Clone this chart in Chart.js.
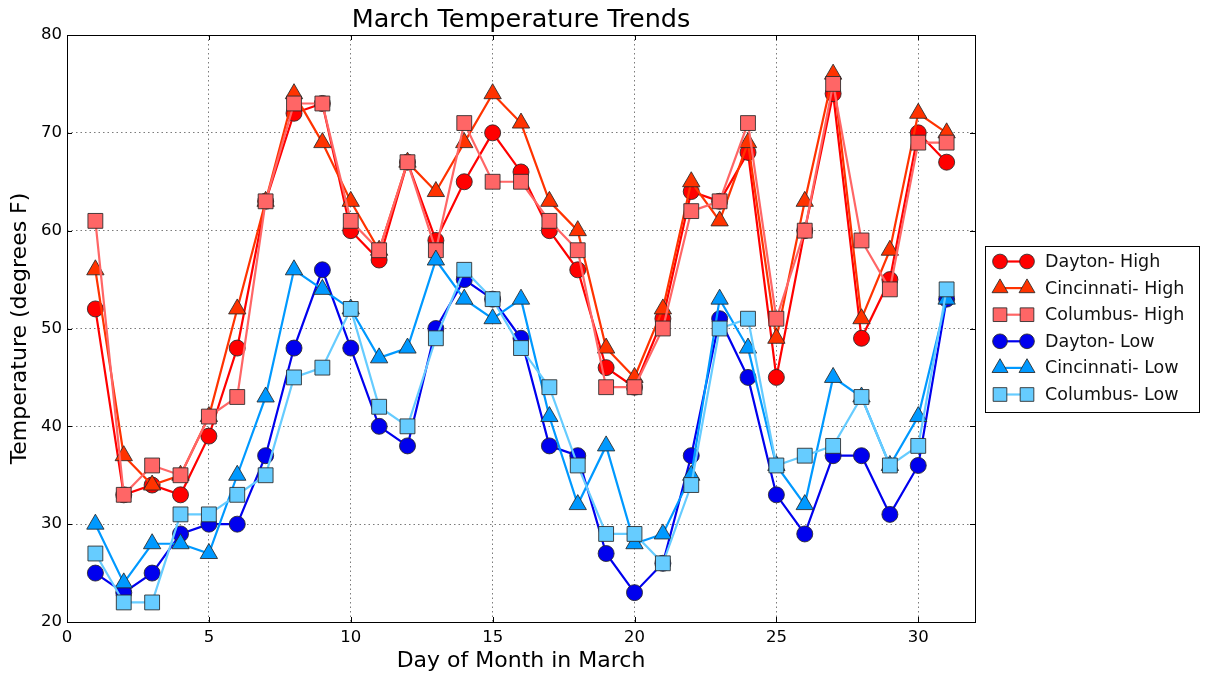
<!DOCTYPE html>
<html>
<head>
<meta charset="utf-8">
<title>March Temperature Trends</title>
<script src="https://cdn.jsdelivr.net/npm/chart.js@4/dist/chart.umd.min.js"></script>
<style>
  html, body { margin: 0; padding: 0; background: #fff; }
  #wrap { width: 1207px; height: 677px; }
</style>
</head>
<body>
<div id="wrap"><canvas id="chart" width="1207" height="677"></canvas></div>
<script>
// Days of the month
const days = [1, 2, 3, 4, 5, 6, 7, 8, 9, 10, 11, 12, 13, 14, 15, 16, 17, 18, 19, 20, 21, 22, 23, 24, 25, 26, 27, 28, 29, 30, 31]

// Temperatures
const daytonHigh     = [52, 33, 34, 33, 39, 48, 63, 72, 73, 60, 57, 67, 59, 65, 70, 66, 60, 56, 46, 44, 51, 64, 63, 68, 45, 60, 74, 49, 55, 70, 67]
const cincinnatiHigh = [56, 37, 34, 35, 41, 52, 63, 74, 69, 63, 58, 67, 64, 69, 74, 71, 63, 60, 48, 45, 52, 65, 61, 69, 49, 63, 76, 51, 58, 72, 70]
const columbusHigh   = [61, 33, 36, 35, 41, 43, 63, 73, 73, 61, 58, 67, 58, 71, 65, 65, 61, 58, 44, 44, 50, 62, 63, 71, 51, 60, 75, 59, 54, 69, 69]
const daytonLow      = [25, 23, 25, 29, 30, 30, 37, 48, 56, 48, 40, 38, 50, 55, 53, 49, 38, 37, 27, 23, 26, 37, 51, 45, 33, 29, 37, 37, 31, 36, 53]
const cincinnatiLow  = [30, 24, 28, 28, 27, 35, 43, 56, 54, 52, 47, 48, 57, 53, 51, 53, 41, 32, 38, 28, 29, 35, 53, 48, 36, 32, 45, 43, 36, 41, 53]
const columbusLow    = [27, 22, 22, 31, 31, 33, 35, 45, 46, 52, 42, 40, 49, 56, 53, 48, 44, 36, 29, 29, 26, 34, 50, 51, 36, 37, 38, 43, 36, 38, 54]

const seriesNames = ["Dayton- High", "Cincinnati- High", "Columbus- High", "Dayton- Low", "Cincinnati- Low", "Columbus- Low"]
const seriesValues = [daytonHigh, cincinnatiHigh, columbusHigh, daytonLow, cincinnatiLow, columbusLow]
const seriesColors = ["#ff0000", "#ff3300", "#ff6666", "#0000ee", "#0099ff", "#66ccff"]
const seriesMarkers = ["circle", "triangle", "rect", "circle", "triangle", "rect"]
const markerRadius = { circle: 8, triangle: 10, rect: 10.5 }

const xTicks = [0, 5, 10, 15, 20, 25, 30]
const yTicks = [20, 30, 40, 50, 60, 70, 80]

const FONT = "'DejaVu Sans', 'Liberation Sans', sans-serif"
const EDGE = "rgba(40,40,40,0.85)"

// Build the datasets; later series sit on top, as in the original
const datasets = seriesNames.map((name, i) => ({
    label: name,
    data: days.map((d, j) => ({ x: d, y: seriesValues[i][j] })),
    borderColor: seriesColors[i],
    backgroundColor: seriesColors[i],
    borderWidth: 2.2,
    pointStyle: seriesMarkers[i],
    pointRadius: markerRadius[seriesMarkers[i]],
    pointHoverRadius: markerRadius[seriesMarkers[i]],
    pointBorderColor: EDGE,
    pointBorderWidth: 1,
    pointBackgroundColor: seriesColors[i],
    tension: 0,
    order: seriesNames.length - i
}))

// Frame, inner tick marks, title and legend
const decorations = {
    id: "decorations",
    afterDatasetsDraw(chart) {
        const { ctx, chartArea: a, scales } = chart
        ctx.save()
        ctx.strokeStyle = "#000"
        ctx.lineWidth = 1
        ctx.strokeRect(a.left + 0.5, a.top + 0.5, a.right - a.left, a.bottom - a.top)
        ctx.beginPath()
        for (const t of xTicks) {
            const x = Math.round(scales.x.getPixelForValue(t)) + 0.5
            ctx.moveTo(x, a.bottom); ctx.lineTo(x, a.bottom - 5)
            ctx.moveTo(x, a.top); ctx.lineTo(x, a.top + 5)
        }
        for (const t of yTicks) {
            const y = Math.round(scales.y.getPixelForValue(t)) + 0.5
            ctx.moveTo(a.left, y); ctx.lineTo(a.left + 5, y)
            ctx.moveTo(a.right, y); ctx.lineTo(a.right - 5, y)
        }
        ctx.stroke()

        // Title
        ctx.fillStyle = "#000"
        ctx.font = "25.5px " + FONT
        ctx.textAlign = "center"
        ctx.textBaseline = "middle"
        ctx.fillText("March Temperature Trends", (a.left + a.right) / 2, 20)

        // Legend
        const box = { x: 985.5, y: 246.5, w: 214, h: 166 }
        ctx.strokeStyle = "#000"
        ctx.strokeRect(box.x, box.y, box.w, box.h)
        ctx.font = "17.5px " + FONT
        ctx.textAlign = "left"
        seriesNames.forEach((name, i) => {
            const y = 261.5 + i * 26.6
            ctx.strokeStyle = seriesColors[i]
            ctx.lineWidth = 2.2
            ctx.beginPath()
            ctx.moveTo(1000, y); ctx.lineTo(1027, y)
            ctx.stroke()
            const opts = {
                pointStyle: seriesMarkers[i],
                radius: markerRadius[seriesMarkers[i]] * 0.92,
                borderWidth: 1
            }
            ctx.fillStyle = seriesColors[i]
            ctx.strokeStyle = EDGE
            ctx.lineWidth = 1
            Chart.helpers.drawPoint(ctx, opts, 1000, y)
            Chart.helpers.drawPoint(ctx, opts, 1027, y)
            ctx.fillStyle = "#111"
            ctx.fillText(name, 1045, y + 1)
        })
        ctx.restore()
    }
}

new Chart(document.getElementById("chart"), {
    type: "line",
    data: { datasets },
    options: {
        responsive: false,
        animation: false,
        layout: { padding: { top: 35, right: 232, left: 0, bottom: 0 } },
        plugins: {
            legend: { display: false },
            title: { display: false },
            tooltip: { enabled: false }
        },
        scales: {
            x: {
                type: "linear",
                min: 0,
                max: 32,
                afterBuildTicks: scale => { scale.ticks = xTicks.map(v => ({ value: v })) },
                afterFit: scale => { scale.height = 55 },
                grid: { color: "rgba(0,0,0,0.65)", lineWidth: 0.8, drawTicks: false },
                border: { display: false, dash: [1.5, 3] },
                ticks: { color: "#000", padding: 6, font: { family: FONT, size: 16.5 }, maxRotation: 0 },
                title: {
                    display: true,
                    text: "Day of Month in March",
                    color: "#000",
                    font: { family: FONT, size: 22 },
                    padding: { top: 0, bottom: 3 }
                }
            },
            y: {
                type: "linear",
                min: 20,
                max: 80,
                afterBuildTicks: scale => { scale.ticks = yTicks.map(v => ({ value: v })) },
                afterFit: scale => { scale.width = 67 },
                grid: { color: "rgba(0,0,0,0.65)", lineWidth: 0.8, drawTicks: false },
                border: { display: false, dash: [1.5, 3] },
                ticks: { color: "#000", padding: 5, font: { family: FONT, size: 16.5 } },
                title: {
                    display: true,
                    text: "Temperature (degrees F)",
                    color: "#000",
                    font: { family: FONT, size: 22 },
                    padding: { top: 7, bottom: 0 }
                }
            }
        }
    },
    plugins: [decorations]
})
</script>
</body>
</html>
